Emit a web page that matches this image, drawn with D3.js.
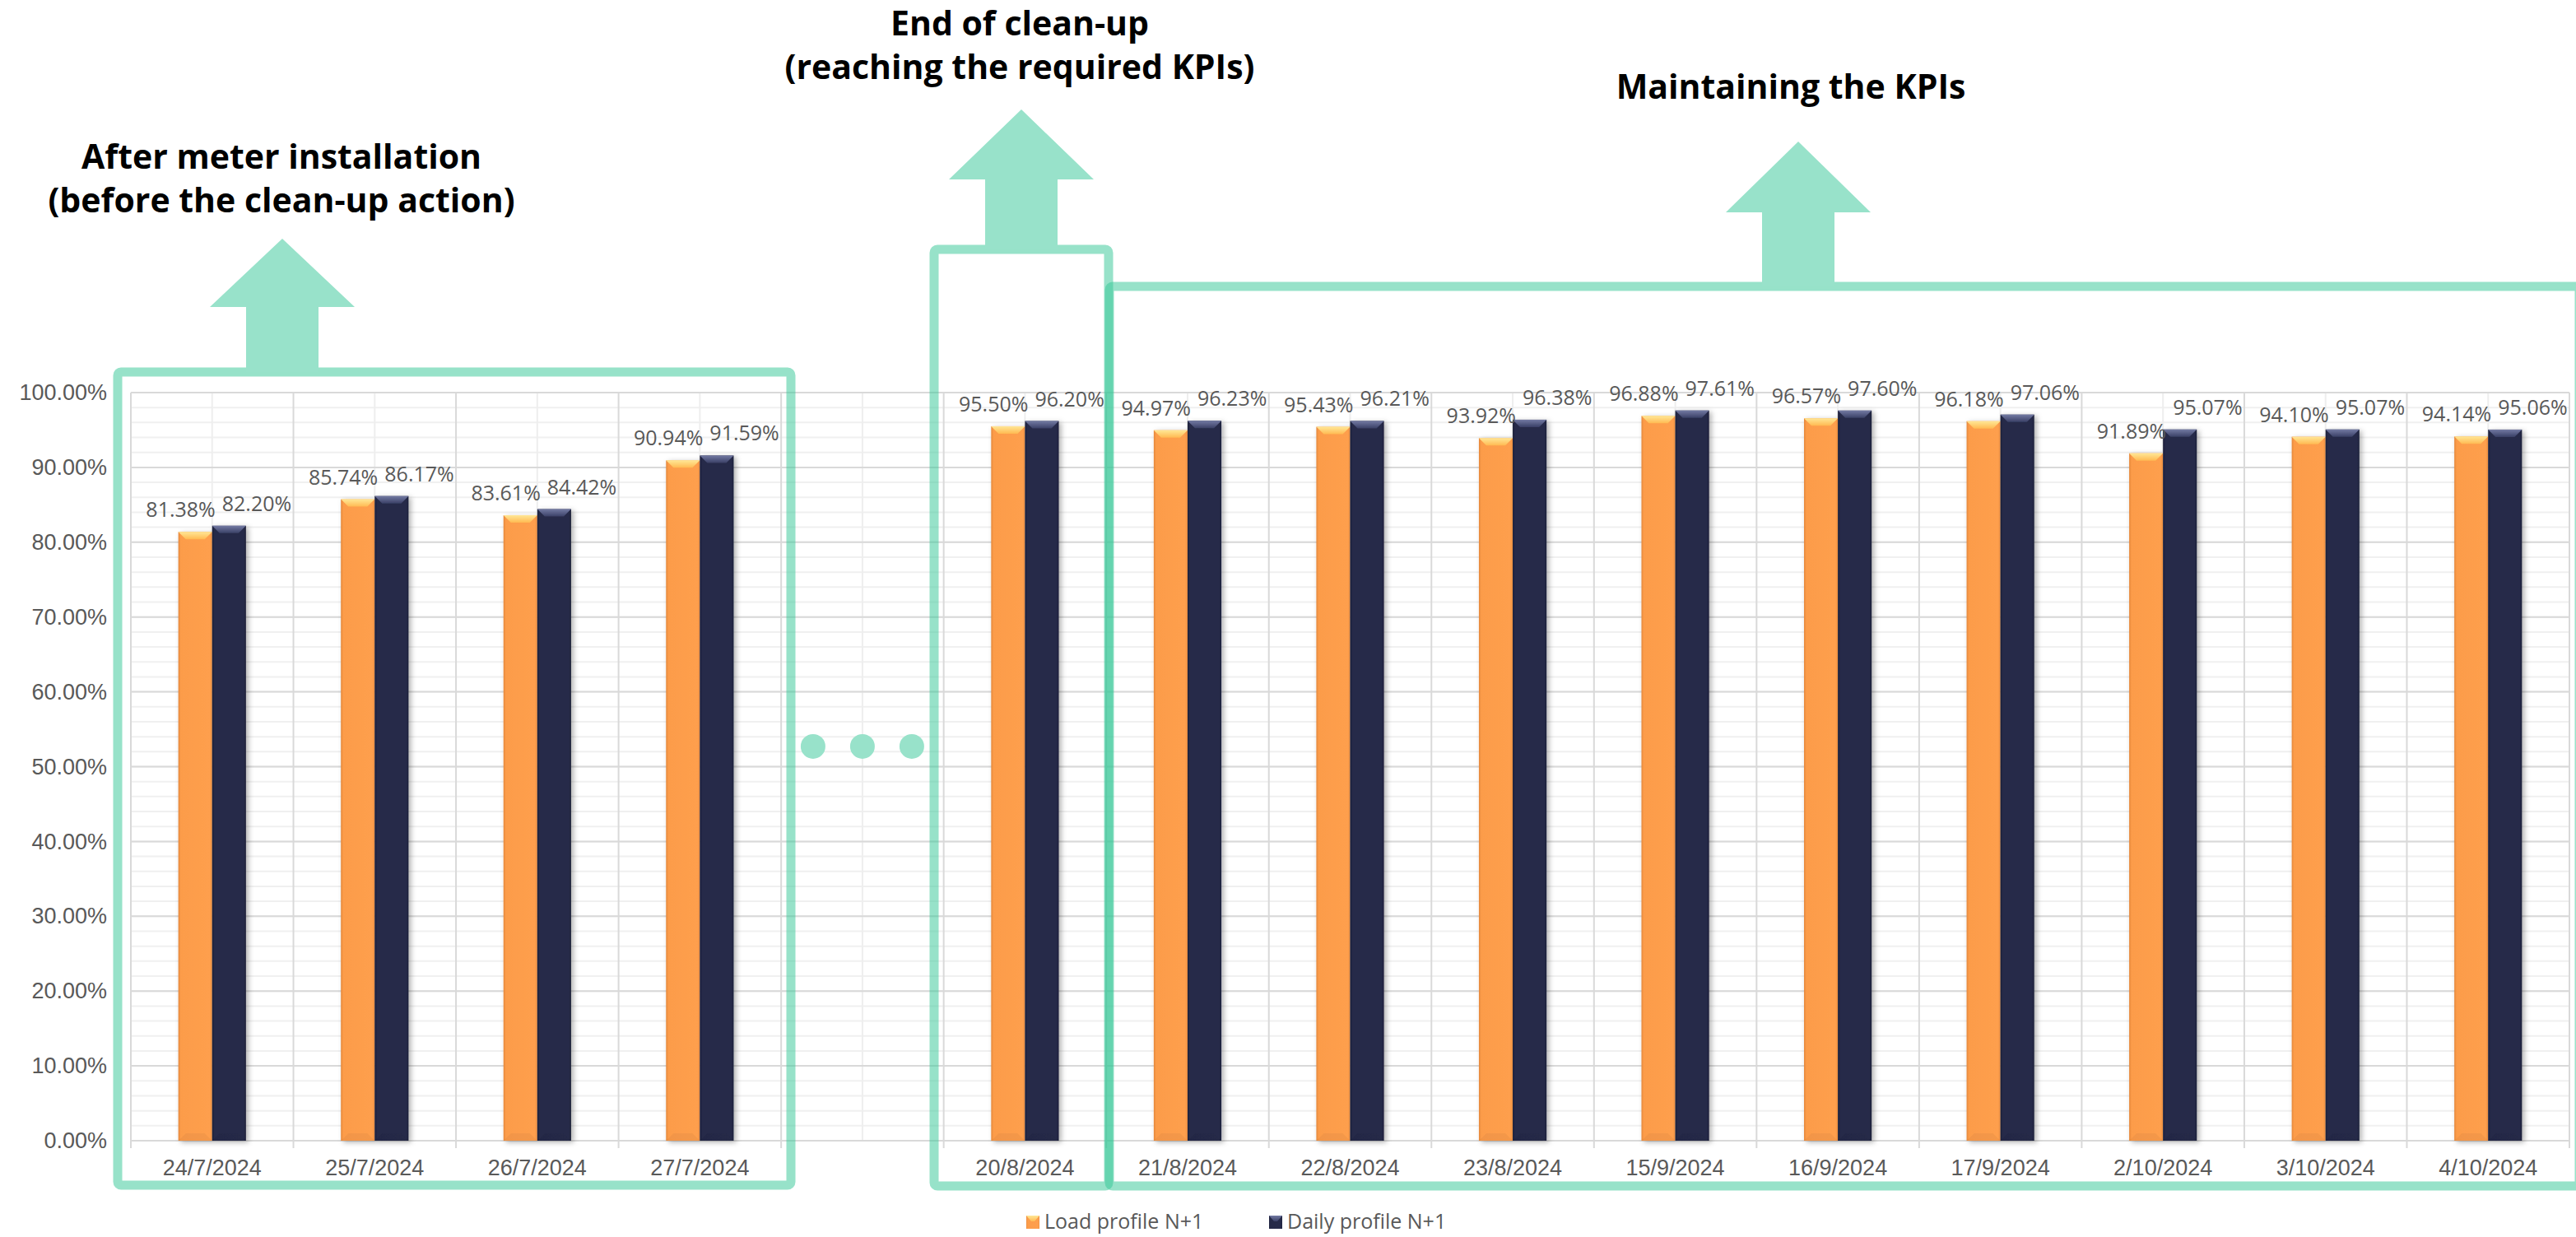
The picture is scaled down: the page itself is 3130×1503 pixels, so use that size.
<!DOCTYPE html>
<html>
<head>
<meta charset="utf-8">
<script src="https://cdn.jsdelivr.net/npm/d3@7"></script>
<style>
body { margin: 0; background: #fff; }
svg { display: block; font-family: "Open Sans", "Noto Sans", sans-serif; }
</style>
</head>
<body>
<svg id="main"></svg>
<script>
// data
var categories = ["24/7/2024", "25/7/2024", "26/7/2024", "27/7/2024", "",
  "20/8/2024", "21/8/2024", "22/8/2024", "23/8/2024", "15/9/2024",
  "16/9/2024", "17/9/2024", "2/10/2024", "3/10/2024", "4/10/2024"];
var loadProfile = [0.8138, 0.8574, 0.8361, 0.9094, null,
  0.9550, 0.9497, 0.9543, 0.9392, 0.9688, 0.9657, 0.9618, 0.9189, 0.9410, 0.9414];
var dailyProfile = [0.8220, 0.8617, 0.8442, 0.9159, null,
  0.9620, 0.9623, 0.9621, 0.9638, 0.9761, 0.9760, 0.9706, 0.9507, 0.9507, 0.9506];
var seriesNames = ["Load profile N+1", "Daily profile N+1"];
var yTicks = [0, 0.1, 0.2, 0.3, 0.4, 0.5, 0.6, 0.7, 0.8, 0.9, 1.0];
var phaseTitles = [
  ["After meter installation", "(before the clean-up action)"],
  ["End of clean-up", "(reaching the required KPIs)"],
  ["Maintaining the KPIs"]
];

var W = 3130, H = 1503;
var svg = d3.select("#main").attr("width", W).attr("height", H);

var mint = "#98E2CA";
var mintStroke = "rgba(55,199,152,0.52)";
var textCol = "#595959";

var x = d3.scaleBand().domain(categories).range([159, 3122]).padding(0);
var y = d3.scaleLinear().domain([0, 1]).range([1386, 477]);
var bw = x.bandwidth(), barW = bw * 0.208;

// gradients + shadow
var defs = svg.append("defs");
function grad(id, horiz, stops) {
  var g = defs.append("linearGradient").attr("id", id)
    .attr("x1", 0).attr("y1", 0).attr("x2", horiz ? 1 : 0).attr("y2", horiz ? 0 : 1);
  stops.forEach(function (s) {
    g.append("stop").attr("offset", s[0]).attr("stop-color", s[1]);
  });
}
grad("body0", true, [["0", "#E4873A"], ["0.07", "#FC9C4A"], ["0.93", "#FE9F4D"], ["1", "#E98D40"]]);
grad("top0", false, [["0", "#FFE796"], ["1", "#FFBA52"]]);
grad("body1", true, [["0", "#1B1F3A"], ["0.07", "#262A48"], ["0.93", "#272B4A"], ["1", "#1C2039"]]);
grad("top1", false, [["0", "#737AA3"], ["1", "#3A4066"]]);
var f = defs.append("filter").attr("id", "shadow")
  .attr("x", "-30%").attr("y", "-10%").attr("width", "160%").attr("height", "120%");
f.append("feDropShadow").attr("dx", 3).attr("dy", 2).attr("stdDeviation", 3)
  .attr("flood-color", "#000").attr("flood-opacity", 0.3);

// grid
var grid = svg.append("g");
var minor = d3.range(0, 1.0001, 0.02);
grid.selectAll(".hmin").data(minor).enter().append("line")
  .attr("x1", 159).attr("x2", 3122)
  .attr("y1", function (d) { return y(d); }).attr("y2", function (d) { return y(d); })
  .attr("stroke", "#F0F0F0").attr("stroke-width", 2);
grid.selectAll(".vmin").data(categories).enter().append("line")
  .attr("x1", function (d) { return x(d) + bw / 2; }).attr("x2", function (d) { return x(d) + bw / 2; })
  .attr("y1", y(1)).attr("y2", y(0))
  .attr("stroke", "#EEEEEE").attr("stroke-width", 2);
grid.selectAll(".hmaj").data(yTicks).enter().append("line")
  .attr("x1", 159).attr("x2", 3122)
  .attr("y1", function (d) { return y(d); }).attr("y2", function (d) { return y(d); })
  .attr("stroke", "#D9D9D9").attr("stroke-width", 2);
var bounds = categories.map(function (d) { return x(d); }).concat([x.range()[1]]);
grid.selectAll(".vmaj").data(bounds).enter().append("line")
  .attr("x1", function (d) { return d; }).attr("x2", function (d) { return d; })
  .attr("y1", y(1)).attr("y2", y(0) + 9)
  .attr("stroke", "#D9D9D9").attr("stroke-width", 2);

// axes
var yAxis = svg.append("g").attr("transform", "translate(159,0)")
  .call(d3.axisLeft(y).tickValues(yTicks).tickFormat(d3.format(".2%")).tickSize(0).tickPadding(29));
yAxis.select(".domain").remove();
yAxis.selectAll("text").attr("fill", textCol).style("font-size", "27px");

var xAxis = svg.append("g").attr("transform", "translate(0," + y(0) + ")")
  .call(d3.axisBottom(x).tickSize(0).tickPadding(23));
xAxis.select(".domain").remove();
xAxis.selectAll("text").attr("fill", textCol).style("font-size", "27px");

// bars
var rows = [];
categories.forEach(function (c, i) {
  if (loadProfile[i] == null) return;
  rows.push({ c: c, v: [loadProfile[i], dailyProfile[i]] });
});
var bev = 9;
var pairs = svg.append("g").selectAll("g").data(rows).enter().append("g")
  .attr("filter", "url(#shadow)");
[0, 1].forEach(function (s) {
  var bar = pairs.append("g");
  function x0(d) { return x(d.c) + bw / 2 + (s - 1) * barW; }
  bar.append("rect")
    .attr("x", x0).attr("y", function (d) { return y(d.v[s]); })
    .attr("width", barW).attr("height", function (d) { return y(0) - y(d.v[s]); })
    .attr("fill", "url(#body" + s + ")");
  bar.append("polygon")
    .attr("points", function (d) {
      var a = x0(d), t = y(d.v[s]);
      return [[a, t], [a + barW, t], [a + barW - bev, t + bev], [a + bev, t + bev]].join(" ");
    })
    .attr("fill", "url(#top" + s + ")");
  bar.append("polygon")
    .attr("points", function (d) {
      var a = x0(d), b = y(0);
      return [[a, b], [a + barW, b], [a + barW - bev, b - bev], [a + bev, b - bev]].join(" ");
    })
    .attr("fill", "#000").attr("opacity", 0.04);
});

// data labels
var labels = svg.append("g").style("font-size", "25px").attr("fill", textCol);
[0, 1].forEach(function (s) {
  labels.selectAll(".l" + s).data(rows).enter().append("text")
    .attr("x", function (d) { return x(d.c) + bw / 2 + (s === 0 ? 4 : 12); })
    .attr("y", function (d) { return y(d.v[s]) - 18; })
    .attr("text-anchor", s === 0 ? "end" : "start")
    .text(function (d) { return d3.format(".2%")(d.v[s]); });
});

// phase boxes
var boxes = [
  { l: 143, r: 961, t: 452, b: 1440 },
  { l: 1135, r: 1347, t: 303, b: 1441 },
  { l: 1348, r: 3134, t: 348, b: 1441 }
];
svg.append("g").selectAll("rect").data(boxes).enter().append("rect")
  .attr("x", function (d) { return d.l; }).attr("y", function (d) { return d.t; })
  .attr("width", function (d) { return d.r - d.l; }).attr("height", function (d) { return d.b - d.t; })
  .attr("rx", 4).attr("fill", "none").attr("stroke", mintStroke).attr("stroke-width", 11);

// arrows
var arrows = [
  { cx: 343, tip: 290, base: 373, bottom: 452 },
  { cx: 1241, tip: 133, base: 218, bottom: 303 },
  { cx: 2185, tip: 172, base: 258, bottom: 348 }
];
svg.append("g").selectAll("polygon").data(arrows).enter().append("polygon")
  .attr("points", function (d) {
    var sh = 44, hd = 88;
    return [[d.cx, d.tip], [d.cx + hd, d.base], [d.cx + sh, d.base], [d.cx + sh, d.bottom],
      [d.cx - sh, d.bottom], [d.cx - sh, d.base], [d.cx - hd, d.base]].join(" ");
  })
  .attr("fill", mint);

// gap dots
var gapC = x("") + bw / 2;
svg.append("g").selectAll("circle").data([-1, 0, 1]).enter().append("circle")
  .attr("cx", function (d) { return gapC + d * 60; }).attr("cy", y(0.527))
  .attr("r", 15).attr("fill", mint);

// phase titles
var titlePos = [{ cx: 342, y: 205 }, { cx: 1239, y: 43 }, { cx: 2176, y: 120 }];
phaseTitles.forEach(function (lines, i) {
  var t = svg.append("text").attr("text-anchor", "middle")
    .style("font-size", "41px").style("font-weight", "bold").attr("fill", "#000");
  lines.forEach(function (ln, j) {
    t.append("tspan").attr("x", titlePos[i].cx).attr("y", titlePos[i].y + j * 53).text(ln);
  });
});

// legend
var legend = svg.append("g");
var legX = [1247, 1542];
seriesNames.forEach(function (n, s) {
  var g = legend.append("g").attr("transform", "translate(" + legX[s] + ",1477)");
  g.append("rect").attr("width", 16).attr("height", 16).attr("fill", "url(#body" + s + ")");
  g.append("polygon").attr("points", "0,0 16,0 10,7 6,7").attr("fill", "url(#top" + s + ")");
  g.append("text").attr("x", 22).attr("y", 16).attr("fill", textCol)
    .style("font-size", "25px").text(n);
});
</script>
</body>
</html>
